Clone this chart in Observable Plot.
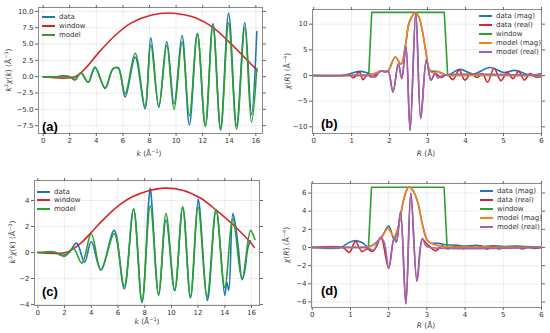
<!DOCTYPE html>
<html><head><meta charset="utf-8">
<script src="https://cdn.jsdelivr.net/npm/d3@7"></script>
<script src="https://cdn.jsdelivr.net/npm/@observablehq/plot@0.6"></script>
<style>
body{margin:0;background:#fff;}
#root{position:relative;width:550px;height:333px;overflow:hidden;background:#fff;font-family:"DejaVu Sans",sans-serif;color:#333;}
.p{position:absolute;}
.lbl{position:absolute;font-size:7.5px;color:#444;white-space:nowrap;transform:translate(-50%,-50%);}
.rot{transform:translate(-50%,-50%) rotate(-90deg);}
.tag{position:absolute;font-family:"Liberation Sans",Arial,sans-serif;font-weight:bold;font-size:13px;color:#000;transform:translateY(-50%);}
.leg{position:absolute;font-size:7px;color:#333;white-space:nowrap;transform:translateY(-50%);display:flex;align-items:center;}
.leg span.sw{display:inline-block;width:13px;height:2px;margin-right:4px;}
</style></head>
<body><div id="root"></div>
<script>
// ---------- colours ----------
const cBlue="#1f77b4", cOrange="#ff7f0e", cGreen="#2ca02c", cRed="#d62728", cPurple="#9467bd";

// ---------- panel (a) ----------
const aXTicks=[0,2,4,6,8,10,12,14,16];
const aYTicks=[-7.5,-5,-2.5,0,2.5,5,7.5,10];
const aDataK=[0,0.5,0.9,1.5,2.0,2.38,2.84,3.39,3.9,4.66,5.25,5.65,6.17,6.92,7.66,8.1,8.7,9.3,9.85,10.45,11.0,11.6,12.2,12.77,13.35,13.95,14.55,15.17,15.67,16.07];
const aDataY=[0,0,-0.03,0.12,0.0,-0.5,0.6,-0.85,1.47,-1.8,1.2,1.37,-3.1,3.0,-4.9,5.95,-4.7,5.4,-4.2,6.35,-7.4,6.6,-7.5,8.1,-7.9,9.7,-7.5,8.3,-5.8,6.9];
const aModelK=[0,0.9,1.5,2.0,2.38,2.84,3.39,3.9,4.66,5.25,5.65,6.17,6.92,7.66,8.1,8.7,9.3,9.85,10.45,11.0,11.6,12.2,12.77,13.35,13.95,14.55,15.17,15.67,16.07];
const aModelY=[0,-0.02,0.06,0.0,-0.45,0.55,-0.85,1.4,-1.7,1.2,1.3,-2.6,3.6,-4.6,4.9,-4.5,4.8,-5.0,5.3,-6.0,6.6,-7.6,7.8,-8.2,8.2,-8.0,7.5,-7.0,1.3];
const aWinK=[0,2.4,3.3,4.1,5.35,6.6,8.1,9.5,10.6,11.5,12.75,14.0,15.25,16.1];
const aWinY=[0,0,1.55,3.5,6.2,8.2,9.4,9.75,9.5,9.0,7.6,5.3,2.75,0.95];

// ---------- panel (b) ----------
const bXTicks=[0,1,2,3,4,5,6];
const bYTicks=[-10,-5,0,5,10];
const bMagR=[0,0.75,0.9,1.05,1.22,1.38,1.5,1.62,1.8,1.95,2.15,2.3,2.43,2.52,2.68,2.77,2.86,2.95,3.06,3.26,3.45,3.55,3.85,4.2,4.65,5.0,5.3,5.7,6.0];
const bMagY=[0,0,0.2,0.55,0.8,0.6,0.25,0.4,0.9,0.8,3.6,2.2,6.5,10.4,12.2,11.4,8.8,4.9,1.0,0.8,0.2,0.1,1.2,0.3,1.55,0.6,1.0,0.1,0.4];
const bRealR=[0,0.8,0.93,1.05,1.2,1.3,1.42,1.52,1.65,1.78,1.88,1.96,2.09,2.23,2.32,2.43,2.54,2.69,2.82,2.97,3.09,3.2,3.36,3.52,3.67,3.83,3.98,4.14,4.3,4.44,4.58,4.75,4.93,5.1,5.25,5.4,5.55,5.7,5.85,6.0];
const bRealY=[0,0,0.2,-0.45,0.7,-0.8,0.3,-0.3,0.2,0.9,0.7,0.9,-3.2,2.3,-0.6,5.7,-10.7,12.2,-8.4,3.1,-0.9,0.4,-0.4,0.2,-0.8,1.1,-0.9,0.4,-0.4,0.4,-1.3,1.4,-1.0,0.6,-0.6,0.8,-0.9,0.4,-0.3,-0.2];
const bWinR=[0,1.45,1.53,3.44,3.53,6.0];
const bWinY=[0,0,12.3,12.3,0,0];
const bMMagR=[0,0.8,1.0,1.2,1.4,1.55,1.7,1.8,1.95,2.05,2.15,2.3,2.43,2.52,2.67,2.77,2.86,2.95,3.06,3.15,3.26,3.4,3.55,4.0,6.0];
const bMMagY=[0,0,0.05,0.1,0.1,0.2,0.7,0.9,0.8,2.4,3.6,2.2,6.5,10.4,12.2,11.4,8.8,4.9,1.0,0.5,0.8,0.3,0.05,0.05,0.02];
const bMRealR=[0,1.3,1.5,1.62,1.76,1.88,1.96,2.09,2.23,2.32,2.43,2.54,2.69,2.82,2.97,3.09,3.2,3.27,3.4,6.0];
const bMRealY=[0,0,0,-0.3,0.9,0.7,0.9,-3.2,2.3,-0.6,5.7,-10.7,12.2,-8.4,3.1,-0.9,0.4,-0.5,0,0];

// ---------- panel (c) ----------
const cXTicks=[0,2,4,6,8,10,12,14,16];
const cYTicks=[-4,-2,0,2,4];
const cDataK=[0,0.5,0.9,1.3,1.8,2.3,2.9,3.5,4.0,4.72,5.72,6.47,7.17,7.8,8.3,8.42,8.55,9.05,9.6,10.25,10.85,11.43,12.0,12.1,12.68,12.8,13.35,14.0,14.15,14.3,14.6,14.8,15.0,15.3,15.5,15.7,15.9];
const cDataY=[0,0,0.07,0,-0.22,-0.05,0.72,-0.75,0.85,-1.35,1.7,-2.8,3.35,-3.85,3.9,4.95,3.6,-3.3,2.5,-2.95,3.5,-3.5,4.1,3.6,-3.7,-3.2,3.3,-3.3,-2.3,-2.9,3.0,2.1,0.5,-2.1,-1.4,0.2,0.9];
const cModelK=[0,0.9,1.4,2.0,2.65,3.3,4.0,4.72,5.72,6.47,7.17,7.8,8.42,9.05,9.6,10.25,10.85,11.43,12.0,12.68,13.35,14.0,14.6,15.3,15.93,16.25];
const cModelY=[0,0.03,0,-0.3,0.33,-0.82,1.44,-1.33,1.45,-2.6,3.35,-3.75,3.6,-3.2,3.0,-2.9,3.5,-3.4,3.5,-3.4,3.3,-2.7,2.6,-2.0,1.7,1.0];
const cWinK=[0,2.1,3.2,4.5,5.8,7.0,8.3,9.5,10.9,12.2,13.4,14.7,15.9,16.2];
const cWinY=[0,0,0.7,2.1,3.4,4.25,4.75,4.95,4.77,4.17,3.22,2.06,0.8,0.4];

// ---------- panel (d) ----------
const dXTicks=[0,1,2,3,4,5,6];
const dYTicks=[-6,-4,-2,0,2,4,6];
const dMagR=[0,0.75,0.9,1.1,1.3,1.45,1.6,1.82,2.0,2.14,2.27,2.36,2.45,2.52,2.63,2.76,2.88,3.01,3.1,3.3,3.5,3.8,4.0,4.3,4.5,4.75,5.0,5.3,5.6,6.0];
const dMagY=[0,0,0.4,0.75,0.55,0.1,0.3,1.2,2.35,0.9,2.6,4.65,6.1,6.68,6.3,5.0,2.6,0.8,0.5,0.45,0.3,0.25,0.15,0.25,0.1,0.2,0.1,0.15,0.1,0.05];
const dRealR=[0,0.8,0.97,1.13,1.3,1.44,1.57,1.68,1.8,2.0,2.14,2.2,2.31,2.45,2.58,2.74,2.88,3.0,3.23,3.4,3.55,3.68,3.82,3.96,4.12,4.28,4.42,4.58,4.72,4.88,5.05,5.2,5.35,5.5,5.65,5.8,6.0];
const dRealY=[0,0,-0.55,0.66,-0.45,-0.15,-0.45,0.1,1.1,-2.3,1.0,0.6,3.9,-6.2,6.0,-3.7,0.9,0.4,-0.35,0.2,-0.15,0.05,0.2,-0.15,0.15,-0.1,0.2,-0.2,0.15,-0.15,0.05,-0.1,0.1,-0.15,0.05,-0.1,0];
const dWinR=[0,1.47,1.55,3.45,3.53,6.0];
const dWinY=[0,0,6.64,6.64,0,0];
const dMMagR=[0,1.0,1.3,1.5,1.65,1.82,1.98,2.14,2.27,2.36,2.45,2.52,2.63,2.76,2.88,3.01,3.2,3.4,4.0,6.0];
const dMMagY=[0,0.02,0.05,0.1,0.4,1.1,2.1,1.2,2.6,4.65,6.1,6.68,6.3,5.0,2.6,0.8,0.3,0.1,0.05,0.02];
const dMRealR=[0,1.3,1.45,1.6,1.78,1.88,2.0,2.14,2.2,2.31,2.45,2.58,2.74,2.88,2.97,3.1,6.0];
const dMRealY=[0,0,0,-0.3,1.1,0.6,-2.2,1.0,0.6,3.9,-6.2,6.0,-3.7,1.0,0.2,0,0];

// ---------- helpers ----------
const pts=(xs,ys)=>xs.map((x,i)=>({x,y:ys[i]}));
const root=document.getElementById("root");

function panel(cfg){
  const blank=()=> "";
  const marks=[
    Plot.gridX(cfg.xTicks,{stroke:"#000",strokeOpacity:0.07}),
    Plot.gridY(cfg.yTicks,{stroke:"#000",strokeOpacity:0.07}),
    ...cfg.series.map(s=>Plot.line(pts(s.x,s.y),{x:"x",y:"y",stroke:s.color,strokeWidth:1.6,curve:s.curve||"catmull-rom"})),
    Plot.frame({stroke:"#8a8a8a"}),
    Plot.axisX(cfg.xTicks,{anchor:"bottom",tickSize:3,tickPadding:2,label:null,fontSize:7,stroke:"#666"}),
    Plot.axisX(cfg.xTicks,{anchor:"top",tickSize:3,tickFormat:blank,label:null,stroke:"#666"}),
    Plot.axisY(cfg.yTicks,{anchor:"left",tickSize:3,tickPadding:2,tickFormat:cfg.yFmt,label:null,fontSize:7,stroke:"#666"}),
    Plot.axisY(cfg.yTicks,{anchor:"right",tickSize:3,tickFormat:blank,label:null,stroke:"#666"})
  ];
  const svg=Plot.plot({
    width:cfg.w,height:cfg.h,
    marginLeft:cfg.m[0],marginRight:cfg.m[1],marginTop:cfg.m[2],marginBottom:cfg.m[3],
    x:{domain:cfg.xDomain},y:{domain:cfg.yDomain},
    style:{fontFamily:"DejaVu Sans",fontSize:"7px",color:"#333",background:"transparent",overflow:"visible"},
    marks
  });
  const wrap=document.createElement("div");
  wrap.className="p";wrap.style.left=cfg.left+"px";wrap.style.top=cfg.top+"px";
  wrap.appendChild(svg);root.appendChild(wrap);
}
function label(html,x,y,rot){
  const d=document.createElement("div");d.className="lbl"+(rot?" rot":"");
  d.style.left=x+"px";d.style.top=y+"px";d.innerHTML=html;root.appendChild(d);
}
function tag(t,x,y){
  const d=document.createElement("div");d.className="tag";d.style.left=x+"px";d.style.top=y+"px";d.textContent=t;root.appendChild(d);
}
function legend(names,colors,x,ys){
  names.forEach((n,i)=>{
    const d=document.createElement("div");d.className="leg";d.style.left=x+"px";d.style.top=Math.round(ys[i])+"px";
    d.innerHTML=`<span class="sw" style="background:${colors[i]}"></span>${n}`;root.appendChild(d);
  });
}
const f1=d3.format(".1f"), f0=d3.format("d");

// (a)
panel({left:0,top:0,w:275,h:165,m:[38,13,7,32],xDomain:[-0.35,16.5],yDomain:[-8.7,10.6],
  xTicks:aXTicks,yTicks:aYTicks,yFmt:f1,
  series:[{x:aDataK,y:aDataY,color:cBlue},{x:aWinK,y:aWinY,color:cRed},{x:aModelK,y:aModelY,color:cGreen}]});
// (b)
panel({left:275,top:0,w:275,h:165,m:[37,9,9,32],xDomain:[-0.03,6],yDomain:[-11.3,12.86],
  xTicks:bXTicks,yTicks:bYTicks,yFmt:f0,
  series:[{x:bMagR,y:bMagY,color:cBlue},{x:bRealR,y:bRealY,color:cRed},{x:bWinR,y:bWinY,color:cGreen,curve:"linear"},
          {x:bMMagR,y:bMMagY,color:cOrange},{x:bMRealR,y:bMRealY,color:cPurple}]});
// (c)
panel({left:0,top:165,w:275,h:168,m:[34,16,15,28],xDomain:[-0.25,16.6],yDomain:[-4.08,5.54],
  xTicks:cXTicks,yTicks:cYTicks,yFmt:f0,
  series:[{x:cDataK,y:cDataY,color:cBlue},{x:cWinK,y:cWinY,color:cRed},{x:cModelK,y:cModelY,color:cGreen}]});
// (d)
panel({left:275,top:165,w:275,h:168,m:[36,9,18,26],xDomain:[-0.02,6],yDomain:[-6.61,7.05],
  xTicks:dXTicks,yTicks:dYTicks,yFmt:f0,
  series:[{x:dMagR,y:dMagY,color:cBlue},{x:dRealR,y:dRealY,color:cRed},{x:dWinR,y:dWinY,color:cGreen,curve:"linear"},
          {x:dMMagR,y:dMMagY,color:cOrange},{x:dMRealR,y:dMRealY,color:cPurple}]});

// axis labels
label("<i>k</i> (Å<sup style='font-size:5px'>−1</sup>)",149,153);
label("<i>k</i><sup style='font-size:5px'>3</sup><i>χ</i>(<i>k</i>) (Å<sup style='font-size:5px'>−3</sup>)",8,70,true);
label("<i>R</i> (Å)",426,153);
label("<i>χ</i>(<i>R</i>) (Å<sup style='font-size:5px'>−4</sup>)",287,71,true);
label("<i>k</i> (Å<sup style='font-size:5px'>−1</sup>)",147,321);
label("<i>k</i><sup style='font-size:5px'>3</sup><i>χ</i>(<i>k</i>) (Å<sup style='font-size:5px'>−3</sup>)",12,242,true);
label("<i>R</i> (Å)",426,325);
label("<i>χ</i>(<i>R</i>) (Å<sup style='font-size:5px'>−4</sup>)",286,245,true);

// panel tags
tag("(a)",42,126);tag("(b)",321,123);tag("(c)",42,291);tag("(d)",321,290);

// legends
const kNames=["data","window","model"], kColors=[cBlue,cRed,cGreen];
const rNames=["data (mag)","data (real)","window","model (mag)","model (real)"], rColors=[cBlue,cRed,cGreen,cOrange,cPurple];
legend(kNames,kColors,42,[17,26,35]);
legend(rNames,rColors,479,[16,25,34,43,52]);
legend(kNames,kColors,37,[192,200,209]);
legend(rNames,rColors,480,[191,200,209,218,227]);
</script></body></html>
